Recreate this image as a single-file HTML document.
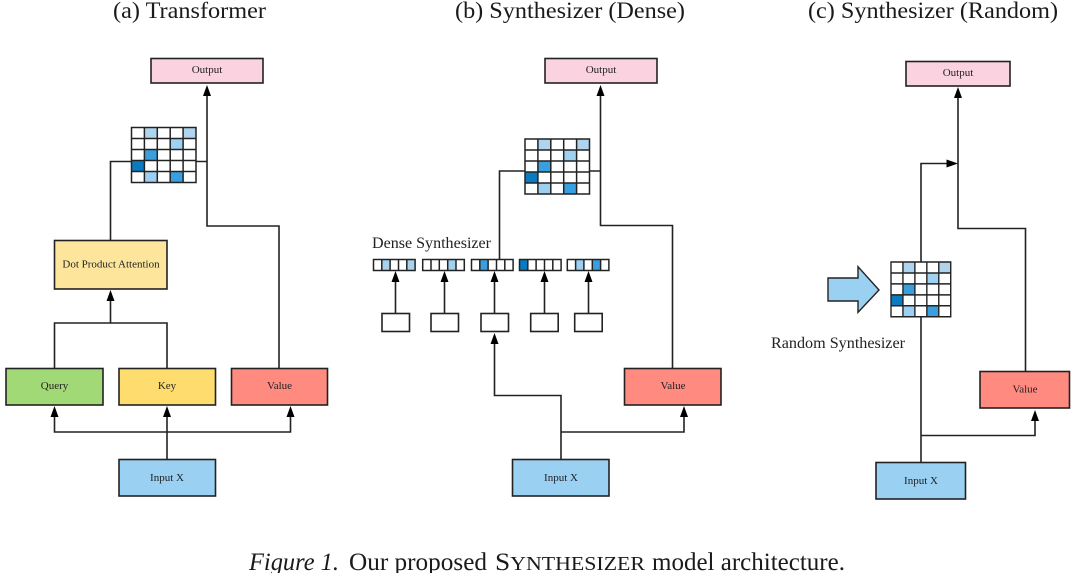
<!DOCTYPE html>
<html>
<head>
<meta charset="utf-8">
<style>
html,body{margin:0;padding:0;background:#fff;width:1080px;height:573px;overflow:hidden}
svg{display:block;filter:blur(0.35px)}
text{font-family:"Liberation Serif",serif;fill:#222}
.b{stroke:#222;stroke-width:1.6}
.l{fill:none;stroke:#222;stroke-width:1.6}
.t{font-size:11px;text-anchor:middle}
.h{font-size:23px;fill:#1a1a1a}
.g{fill:none;stroke:#222;stroke-width:1.5}
.a{fill:#000}
.c{font-size:25px;fill:#1a1a1a}
</style>
</head>
<body>
<svg width="1080" height="573" viewBox="0 0 1080 573" xmlns="http://www.w3.org/2000/svg">
<defs>
<g id="grid">
<rect x="0" y="0" width="64.5" height="55" fill="#fff"/>
<rect x="12.9" y="0" width="12.9" height="11" fill="#aed4ef"/>
<rect x="51.6" y="0" width="12.9" height="11" fill="#b0d4ee"/>
<rect x="38.7" y="11" width="12.9" height="11" fill="#9fd2f1"/>
<rect x="12.9" y="22" width="12.9" height="11" fill="#3a9fdd"/>
<rect x="0" y="33" width="12.9" height="11" fill="#0a7bc0"/>
<rect x="12.9" y="44" width="12.9" height="11" fill="#9ccff2"/>
<rect x="38.7" y="44" width="12.9" height="11" fill="#38a0e0"/>
<path class="g" d="M0 0H64.5V55H0Z M12.9 0V55 M25.8 0V55 M38.7 0V55 M51.6 0V55 M0 11H64.5 M0 22H64.5 M0 33H64.5 M0 44H64.5"/>
</g>
<path id="cols" class="g" d="M0 0H41.6V11H0Z M8.3 0V11 M16.6 0V11 M25 0V11 M33.3 0V11"/>
<path id="up" class="a" d="M0 0L-4 11H4Z"/>
</defs>

<!-- Titles -->
<text class="h" x="113" y="18" textLength="153" lengthAdjust="spacingAndGlyphs">(a) Transformer</text>
<text class="h" x="455" y="18" textLength="230" lengthAdjust="spacingAndGlyphs">(b) Synthesizer (Dense)</text>
<text class="h" x="808" y="18" textLength="250" lengthAdjust="spacingAndGlyphs">(c) Synthesizer (Random)</text>

<!-- (a) -->
<path class="l" d="M167 459V414 M54.5 414V432H290.5V414 M54.5 368V323H167V368 M110.5 323V299 M110.5 240V161.5H131.5 M196 161.5H207 M207 94V226H279V368"/>
<use href="#up" x="207" y="85"/>
<use href="#grid" x="131.5" y="127.5"/>
<use href="#up" x="54.5" y="406"/>
<use href="#up" x="167" y="406"/>
<use href="#up" x="290.5" y="406"/>
<rect class="b" x="151" y="58.5" width="112" height="24.5" fill="#fad2e0"/>
<text class="t" x="207" y="73">Output</text>
<rect class="b" x="54.5" y="240.5" width="112.5" height="48.5" fill="#fde59b"/>
<text class="t" x="111" y="267.5">Dot Product Attention</text>
<use href="#up" x="110.5" y="290"/>
<rect class="b" x="6" y="368.5" width="97" height="36.5" fill="#a2d977"/>
<text class="t" x="54.5" y="389">Query</text>
<rect class="b" x="119" y="368.5" width="96.5" height="36.5" fill="#ffdc6e"/>
<text class="t" x="167" y="389">Key</text>
<rect class="b" x="231.5" y="368.5" width="96" height="36.5" fill="#ff8a80"/>
<text class="t" x="279.5" y="389">Value</text>
<rect class="b" x="119" y="459.5" width="96.5" height="36.5" fill="#9ad0f2"/>
<text class="t" x="167" y="481">Input X</text>

<!-- (b) -->
<path class="l" d="M600.5 94V225.5H672.5V368 M589 171H600.5 M525 171H499.5V259.5 M561 459V395.5H494.5V343 M561 432H684V415"/>
<use href="#grid" x="525" y="139"/>
<use href="#up" x="600.5" y="85"/>
<rect class="b" x="545" y="58.5" width="112" height="24.5" fill="#fad2e0"/>
<text class="t" x="601" y="73">Output</text>
<text x="372" y="248" font-size="15.5" textLength="119" lengthAdjust="spacingAndGlyphs">Dense Synthesizer</text>

<g transform="translate(373.5 259.5)">
<rect width="41.6" height="11" fill="#fff"/>
<rect x="8.3" width="8.3" height="11" fill="#a8d2ef"/>
<rect x="33.3" width="8.3" height="11" fill="#a8d2ef"/>
<use href="#cols"/>
</g>
<g transform="translate(422.7 259.5)">
<rect width="41.6" height="11" fill="#fff"/>
<rect x="25" width="8.3" height="11" fill="#9fd2f1"/>
<use href="#cols"/>
</g>
<g transform="translate(471.5 259.5)">
<rect width="41.6" height="11" fill="#fff"/>
<rect x="8.3" width="8.3" height="11" fill="#3a9fdd"/>
<use href="#cols"/>
</g>
<g transform="translate(519.5 259.5)">
<rect width="41.6" height="11" fill="#fff"/>
<rect width="8.3" height="11" fill="#0a7bc0"/>
<use href="#cols"/>
</g>
<g transform="translate(567.3 259.5)">
<rect width="41.6" height="11" fill="#fff"/>
<rect x="8.3" width="8.3" height="11" fill="#9ccff2"/>
<rect x="25" width="8.3" height="11" fill="#38a0e0"/>
<use href="#cols"/>
</g>

<path class="l" d="M395.5 313V280 M444.5 313V280 M494.5 313V280 M544.5 313V280 M588.5 313V280"/>
<use href="#up" x="395.5" y="271"/>
<use href="#up" x="444.5" y="271"/>
<use href="#up" x="494.5" y="271"/>
<use href="#up" x="544.5" y="271"/>
<use href="#up" x="588.5" y="271"/>
<rect class="b" x="382" y="313.5" width="27.5" height="18" fill="#fff"/>
<rect class="b" x="431" y="313.5" width="27.5" height="18" fill="#fff"/>
<rect class="b" x="481" y="313.5" width="27.5" height="18" fill="#fff"/>
<rect class="b" x="530.7" y="313.5" width="27.5" height="18" fill="#fff"/>
<rect class="b" x="574.7" y="313.5" width="27.5" height="18" fill="#fff"/>
<use href="#up" x="494.5" y="333"/>
<use href="#up" x="684" y="406"/>
<rect class="b" x="624.5" y="368.5" width="96.5" height="36.5" fill="#ff8a80"/>
<text class="t" x="673" y="389">Value</text>
<rect class="b" x="512.5" y="459.5" width="96.5" height="36.5" fill="#9ad0f2"/>
<text class="t" x="561" y="481">Input X</text>

<!-- (c) -->
<path class="l" d="M958 97V228.5H1025.5V371 M921 462V317 M921 262V163.5H948 M921 435.5H1035V419"/>
<use href="#up" x="958" y="87"/>
<path class="a" d="M958 163.5L946.5 159.5V167.5Z"/>
<use href="#up" x="1035" y="410"/>
<use href="#grid" transform="translate(891 262) scale(0.926 0.995)"/>
<path d="M828 278H858V266.7L879 290L858 312.3V301H828Z" fill="#9ad0f2" stroke="#222" stroke-width="1.4"/>
<text x="771" y="348" font-size="15.5" textLength="134" lengthAdjust="spacingAndGlyphs">Random Synthesizer</text>
<rect class="b" x="906" y="61.5" width="104" height="24.5" fill="#fad2e0"/>
<text class="t" x="958" y="76">Output</text>
<rect class="b" x="980" y="371.5" width="89.5" height="36.5" fill="#ff8a80"/>
<text class="t" x="1025" y="392.5">Value</text>
<rect class="b" x="876" y="462.5" width="89.5" height="36.5" fill="#9ad0f2"/>
<text class="t" x="921" y="484">Input X</text>

<!-- Caption -->
<text class="c" x="249" y="570" font-style="italic" textLength="90" lengthAdjust="spacingAndGlyphs">Figure 1.</text>
<text class="c" x="349" y="570" textLength="138" lengthAdjust="spacingAndGlyphs">Our proposed</text>
<text class="c" x="495" y="570" textLength="150" lengthAdjust="spacingAndGlyphs">S<tspan font-size="20">YNTHESIZER</tspan></text>
<text class="c" x="652" y="570" textLength="193" lengthAdjust="spacingAndGlyphs">model architecture.</text>
</svg>
</body>
</html>
